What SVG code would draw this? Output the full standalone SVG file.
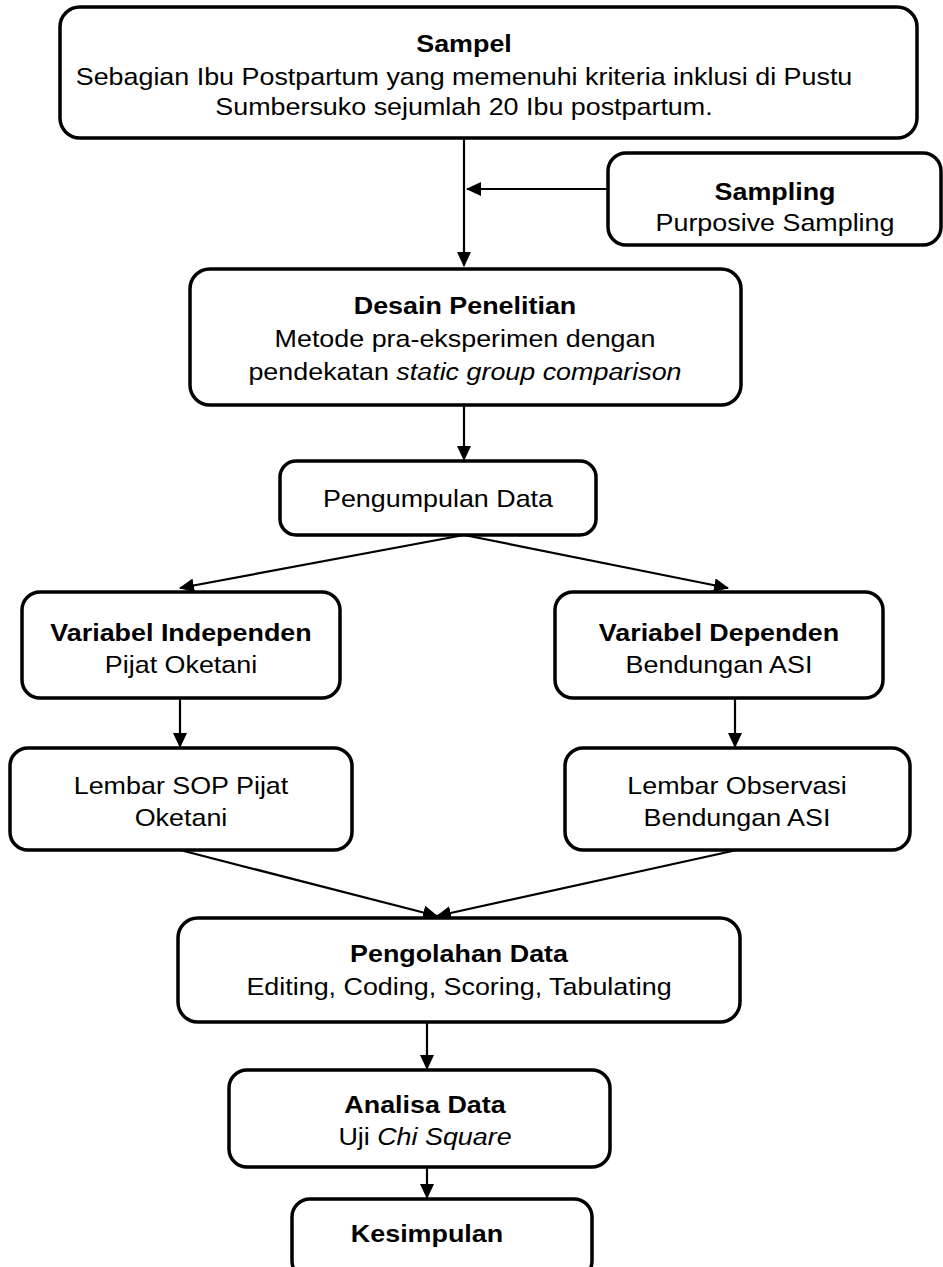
<svg xmlns="http://www.w3.org/2000/svg" width="943" height="1267" viewBox="0 0 943 1267">
<style>
.box{fill:#fff;stroke:#000;stroke-width:3.5}
text{font-family:"Liberation Sans",Arial,sans-serif;font-size:24px;fill:#000;text-anchor:middle}
.b{font-weight:bold}
.i{font-style:italic}
.c{stroke:#000;stroke-width:2.2;fill:none}
</style>
<defs>
<marker id="ah" markerWidth="15" markerHeight="14" refX="14" refY="7" orient="auto" markerUnits="userSpaceOnUse">
<path d="M0,0 L15,7 L0,14 Z" fill="#000"/>
</marker>
</defs>
<g id="connectors">
<line class="c" x1="464" y1="138" x2="464" y2="266" marker-end="url(#ah)"/>
<line class="c" x1="608" y1="189" x2="467" y2="189" marker-end="url(#ah)"/>
<line class="c" x1="464" y1="405" x2="464" y2="460" marker-end="url(#ah)"/>
<line class="c" x1="464" y1="535" x2="180" y2="588" marker-end="url(#ah)"/>
<line class="c" x1="464" y1="535" x2="728" y2="588" marker-end="url(#ah)"/>
<line class="c" x1="180" y1="698" x2="180" y2="747" marker-end="url(#ah)"/>
<line class="c" x1="735" y1="698" x2="735" y2="747" marker-end="url(#ah)"/>
<line class="c" x1="180" y1="850" x2="437" y2="916" marker-end="url(#ah)"/>
<line class="c" x1="737" y1="850" x2="437" y2="916" marker-end="url(#ah)"/>
<line class="c" x1="427" y1="1022" x2="427" y2="1069" marker-end="url(#ah)"/>
<line class="c" x1="427" y1="1167" x2="427" y2="1198" marker-end="url(#ah)"/>
</g>
<g id="sampel">
<rect class="box" x="60" y="7" width="857" height="131" rx="20"/>
<g transform="translate(464 0) scale(1.12 1)">
<text class="b" x="0" y="52">Sampel</text>
<text x="0" y="85">Sebagian Ibu Postpartum yang memenuhi kriteria inklusi di Pustu</text>
<text x="0" y="115">Sumbersuko sejumlah 20 Ibu postpartum.</text>
</g>
</g>
<g id="sampling">
<rect class="box" x="608" y="153" width="333" height="92" rx="18"/>
<g transform="translate(775 0) scale(1.12 1)">
<text class="b" x="0" y="200">Sampling</text>
<text x="0" y="231">Purposive Sampling</text>
</g>
</g>
<g id="desain">
<rect class="box" x="190" y="269" width="551" height="136" rx="20"/>
<g transform="translate(465 0) scale(1.12 1)">
<text class="b" x="0" y="314">Desain Penelitian</text>
<text x="0" y="347">Metode pra-eksperimen dengan</text>
<text x="0" y="380">pendekatan <tspan class="i">static group comparison</tspan></text>
</g>
</g>
<g id="pengumpulan">
<rect class="box" x="280" y="461" width="316" height="74" rx="16"/>
<g transform="translate(438 0) scale(1.12 1)">
<text x="0" y="507">Pengumpulan Data</text>
</g>
</g>
<g id="var-independen">
<rect class="box" x="22" y="592" width="318" height="106" rx="18"/>
<g transform="translate(181 0) scale(1.12 1)">
<text class="b" x="0" y="641">Variabel Independen</text>
<text x="0" y="673">Pijat Oketani</text>
</g>
</g>
<g id="var-dependen">
<rect class="box" x="555" y="592" width="328" height="106" rx="18"/>
<g transform="translate(719 0) scale(1.12 1)">
<text class="b" x="0" y="641">Variabel Dependen</text>
<text x="0" y="673">Bendungan ASI</text>
</g>
</g>
<g id="lembar-sop">
<rect class="box" x="10" y="748" width="342" height="102" rx="18"/>
<g transform="translate(181 0) scale(1.12 1)">
<text x="0" y="794">Lembar SOP Pijat</text>
<text x="0" y="826">Oketani</text>
</g>
</g>
<g id="lembar-observasi">
<rect class="box" x="565" y="748" width="345" height="102" rx="18"/>
<g transform="translate(737 0) scale(1.12 1)">
<text x="0" y="794">Lembar Observasi</text>
<text x="0" y="826">Bendungan ASI</text>
</g>
</g>
<g id="pengolahan">
<rect class="box" x="178" y="918" width="562" height="104" rx="20"/>
<g transform="translate(459 0) scale(1.12 1)">
<text class="b" x="0" y="962">Pengolahan Data</text>
<text x="0" y="995">Editing, Coding, Scoring, Tabulating</text>
</g>
</g>
<g id="analisa">
<rect class="box" x="229" y="1070" width="381" height="97" rx="18"/>
<g transform="translate(425 0) scale(1.12 1)">
<text class="b" x="0" y="1113">Analisa Data</text>
<text x="0" y="1145">Uji <tspan class="i">Chi Square</tspan></text>
</g>
</g>
<g id="kesimpulan">
<rect class="box" x="292" y="1199" width="300" height="80" rx="18"/>
<g transform="translate(427 0) scale(1.12 1)">
<text class="b" x="0" y="1242">Kesimpulan</text>
</g>
</g>
</svg>
